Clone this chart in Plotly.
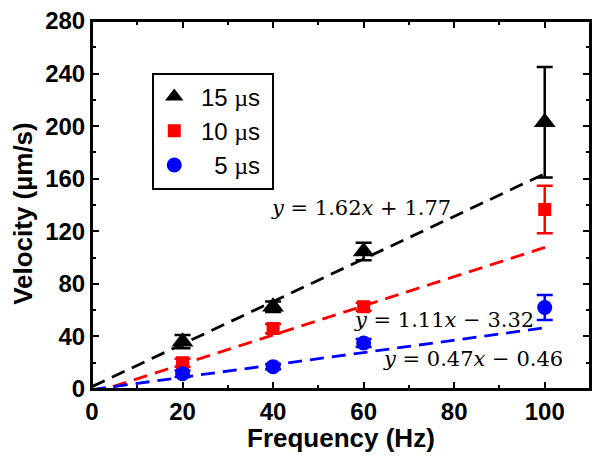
import plotly.graph_objects as go

freq = [20, 40, 60, 100]
v15 = [36, 62.6, 104.6, 203]
e15 = [5, 4, 6.7, 42]
v10 = [20, 46, 62.6, 136.6]
e10 = [3, 3.5, 3, 18]
v5 = [11.6, 17, 35, 62]
e5 = [2.5, 2, 3, 9.5]

fits = {"15": (1.62, 1.77), "10": (1.11, -3.32), "5": (0.47, -0.46)}
fit_x = [0, 101]

eq_labels = ["<i>y</i> = 1.62<i>x</i> + 1.77",
             "<i>y</i> = 1.11<i>x</i> − 3.32",
             "<i>y</i> = 0.47<i>x</i> − 0.46"]
eq_pos = [(59.5, 137.5), (77.8, 52.5), (84.2, 23)]

x_title = "Frequency (Hz)"
y_title = "Velocity (µm/s)"

black, red, blue = "#000000", "#ff0000", "#0000ff"

fig = go.Figure()

for key, col in [("15", black), ("10", red), ("5", blue)]:
    m, b = fits[key]
    fig.add_trace(go.Scatter(
        x=fit_x, y=[m * xx + b for xx in fit_x], mode="lines",
        line=dict(color=col, width=2.8, dash="14px,8px"),
        showlegend=False, hoverinfo="skip"))

mu = "<span style='font-family:Liberation Serif'>µ</span>"
nb = "\u00a0"
series = [(nb + "15 " + mu + "s" + nb, v15, e15, black, "triangle-up", 19),
          (nb + "10 " + mu + "s" + nb, v10, e10, red, "square", 13),
          (nb + nb + nb + "5 " + mu + "s" + nb, v5, e5, blue, "circle", 15)]
for name, vals, errs, col, sym, sz in series:
    fig.add_trace(go.Scatter(
        x=freq, y=vals, mode="markers", name=name,
        marker=dict(color=col, symbol=sym, size=sz),
        error_y=dict(type="data", array=errs, visible=True,
                     color=col, thickness=2.5, width=8)))

for txt, (xx, yy) in zip(eq_labels, eq_pos):
    fig.add_annotation(x=xx, y=yy, text=txt, showarrow=False,
                       font=dict(family="DejaVu Serif", size=21, color="black"))

title_font = dict(family="Liberation Sans", size=26, color="black", weight="bold")
fig.add_annotation(xref="paper", yref="paper", x=0.5, y=-0.132, text=x_title,
                   showarrow=False, xanchor="center", yanchor="middle", font=title_font)
fig.add_annotation(xref="paper", yref="paper", x=-0.139, y=0.478, text=y_title,
                   showarrow=False, xanchor="center", yanchor="middle",
                   textangle=-90, font=title_font)

axis_common = dict(showline=True, linecolor="black", linewidth=2, mirror="ticks",
                   ticks="inside", ticklen=7, tickwidth=2, tickcolor="black",
                   showgrid=False, zeroline=False, automargin=False,
                   tickfont=dict(family="Liberation Sans", size=24, color="black",
                                 weight="bold"))

fig.update_xaxes(range=[0, 110], tickvals=[0, 20, 40, 60, 80, 100],
                 minor=dict(ticks="inside", ticklen=4, tickwidth=2, dtick=10,
                            tickcolor="black", tick0=0),
                 **axis_common)
fig.update_yaxes(range=[0, 280], tickvals=[0, 40, 80, 120, 160, 200, 240, 280],
                 minor=dict(ticks="inside", ticklen=4, tickwidth=2, dtick=20,
                            tickcolor="black", tick0=0),
                 **axis_common)

fig.add_shape(type="rect", xref="paper", yref="paper", x0=0, y0=0, x1=1, y1=1,
              line=dict(color="black", width=2), layer="above")

fig.update_layout(
    width=601, height=461,
    margin=dict(l=92, r=11, t=21, b=72),
    paper_bgcolor="white", plot_bgcolor="white",
    showlegend=True,
    legend=dict(x=0.121, y=0.86, xanchor="left", yanchor="top",
                bordercolor="black", borderwidth=2, bgcolor="white",
                font=dict(family="Liberation Sans", size=24, color="black"),
                itemwidth=30),
)

fig.write_html("out.html", config={"displayModeBar": False},
               post_script="document.body.style.margin='0';document.body.style.overflow='hidden';")
